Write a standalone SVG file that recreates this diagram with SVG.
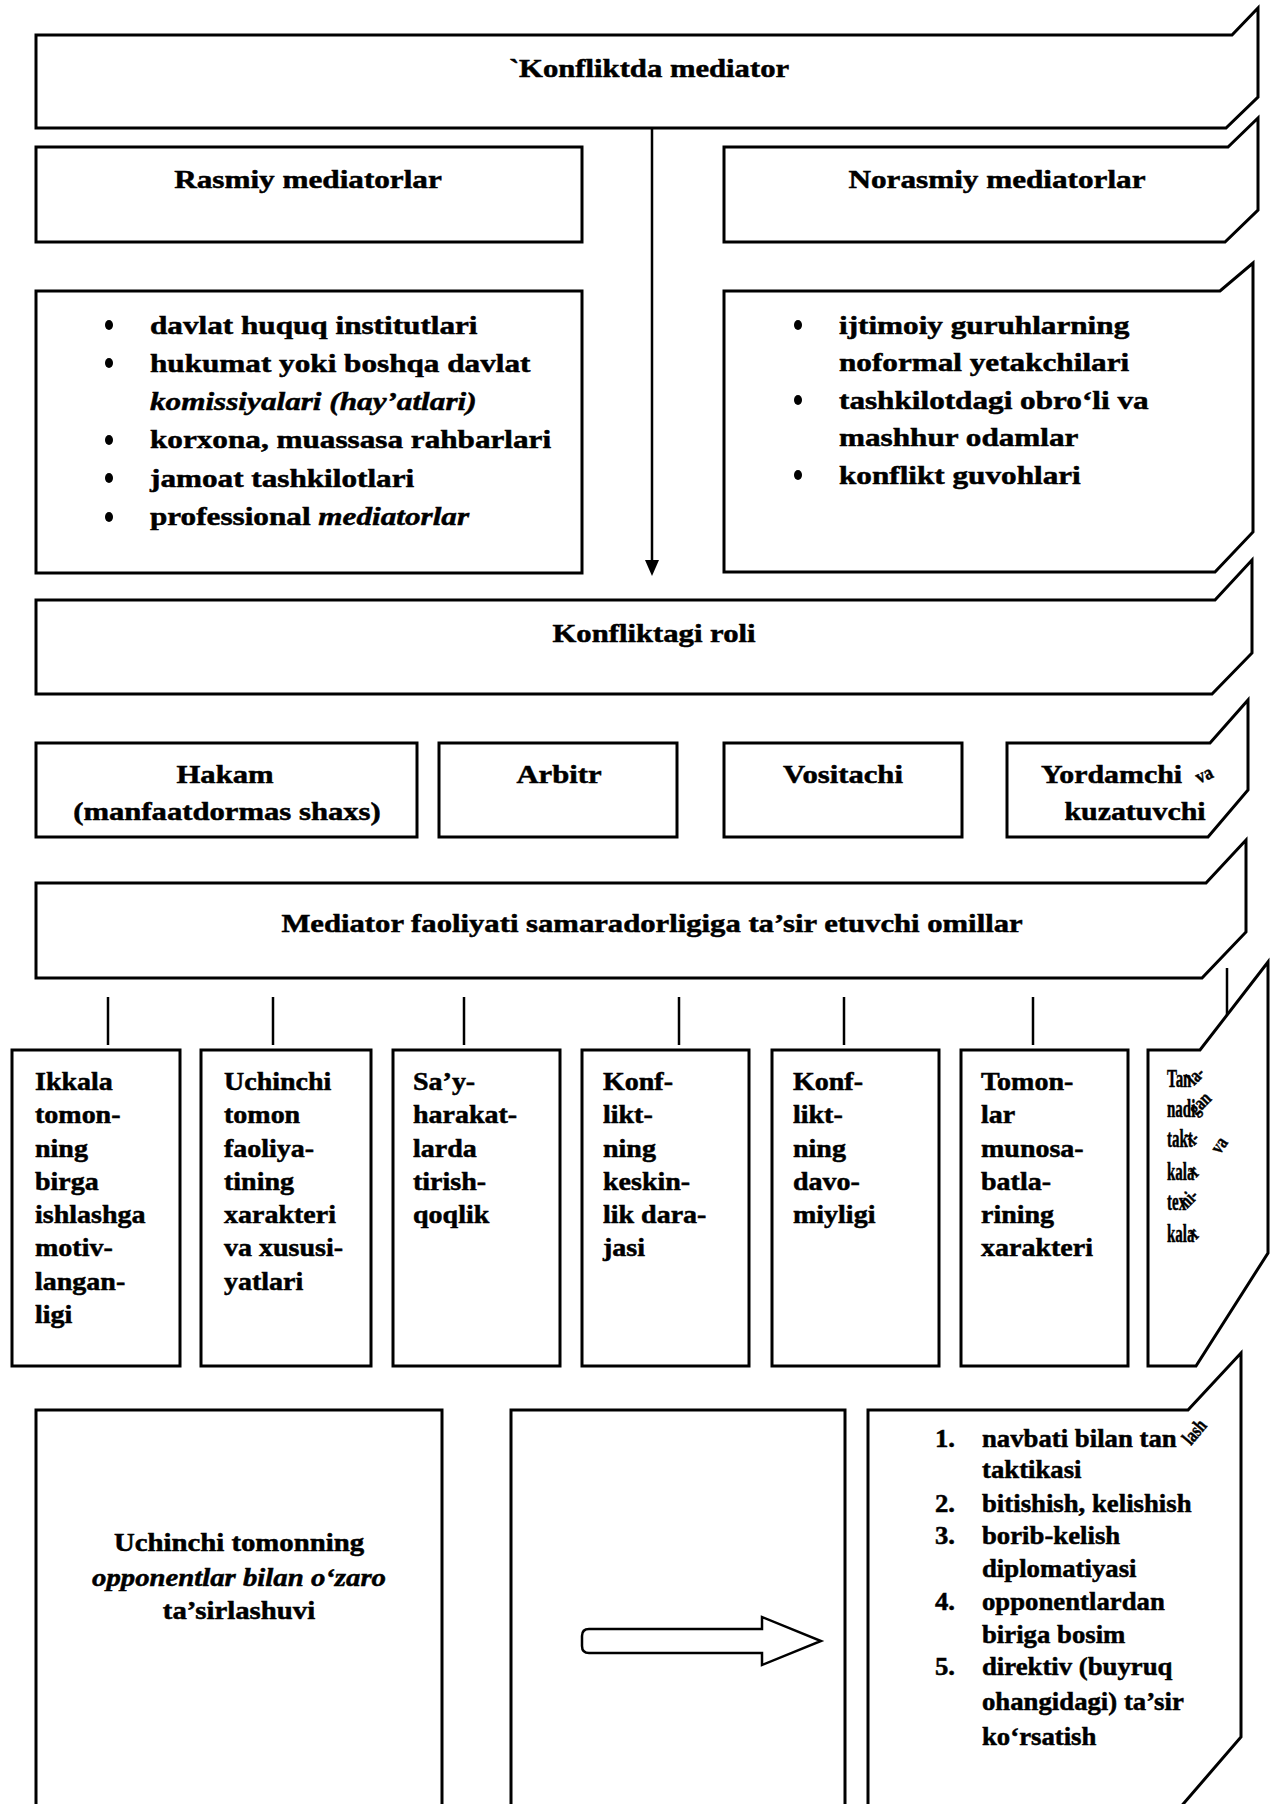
<svg xmlns="http://www.w3.org/2000/svg" width="1271" height="1804" viewBox="0 0 1271 1804">
  <style>
    .box { fill: #fff; stroke: #000; stroke-width: 3; stroke-linejoin: miter; }
    .open { fill: none; stroke: #000; stroke-width: 3; }
    .conn { fill: none; stroke: #000; stroke-width: 2.5; }
    .t { font-family: "Liberation Serif", "Times New Roman", serif; font-weight: bold; fill: #000; stroke: #000; stroke-width: 0.5; }
    .h { font-size: 26px; }
    .l { font-size: 26px; }
    .f { font-size: 25px; }
    .n { font-size: 25px; }
    .c { text-anchor: middle; }
    .i { font-style: italic; }
    .curl { font-size: 20px; }
  </style>

  <rect width="1271" height="1804" fill="#fff"/>

  <!-- connectors -->
  <g id="connectors">
    <line class="conn" x1="652" y1="128" x2="652" y2="561" stroke-width="2"/>
    <polygon points="645,560 659,560 652,576" fill="#000"/>
    <line class="conn" x1="108" y1="997" x2="108" y2="1045"/>
    <line class="conn" x1="273" y1="997" x2="273" y2="1045"/>
    <line class="conn" x1="464" y1="997" x2="464" y2="1045"/>
    <line class="conn" x1="679" y1="997" x2="679" y2="1045"/>
    <line class="conn" x1="844" y1="997" x2="844" y2="1045"/>
    <line class="conn" x1="1033" y1="997" x2="1033" y2="1045"/>
    <line class="conn" x1="1227" y1="968" x2="1227" y2="1015"/>
  </g>

  <!-- top heading -->
  <g id="konfliktda-mediator">
    <path class="box" d="M36,35 H1232 L1258,8 V97 L1226,128 H36 Z"/>
    <text class="t h c" transform="translate(649 77) scale(1.18 1)">`Konfliktda mediator</text>
  </g>

  <g id="rasmiy">
    <rect class="box" x="36" y="147" width="546" height="95"/>
    <text class="t h c" transform="translate(308 188) scale(1.2 1)">Rasmiy mediatorlar</text>
  </g>

  <g id="norasmiy">
    <path class="box" d="M724,147 H1228 L1258,118 V210 L1225,242 H724 Z"/>
    <text class="t h c" transform="translate(997 188) scale(1.2 1)">Norasmiy mediatorlar</text>
  </g>

  <g id="rasmiy-list">
    <rect class="box" x="36" y="291" width="546" height="282"/>
    <ellipse cx="109" cy="325" rx="4" ry="5"/>
    <ellipse cx="109" cy="363" rx="4" ry="5"/>
    <ellipse cx="109" cy="440" rx="4" ry="5"/>
    <ellipse cx="109" cy="478" rx="4" ry="5"/>
    <ellipse cx="109" cy="517" rx="4" ry="5"/>
    <text class="t l" transform="translate(150 334) scale(1.2 1)">davlat huquq institutlari</text>
    <text class="t l" transform="translate(150 372) scale(1.2 1)">hukumat yoki boshqa davlat</text>
    <text class="t l i" transform="translate(150 410) scale(1.2 1)">komissiyalari (hay’atlari)</text>
    <text class="t l" transform="translate(150 448) scale(1.2 1)">korxona, muassasa rahbarlari</text>
    <text class="t l" transform="translate(150 487) scale(1.2 1)">jamoat tashkilotlari</text>
    <text class="t l" transform="translate(150 525) scale(1.2 1)">professional <tspan class="i">mediatorlar</tspan></text>
  </g>

  <g id="norasmiy-list">
    <path class="box" d="M724,291 H1220 L1253,263 V532 L1215,572 H724 Z"/>
    <ellipse cx="798" cy="325" rx="4" ry="5"/>
    <ellipse cx="798" cy="400" rx="4" ry="5"/>
    <ellipse cx="798" cy="475" rx="4" ry="5"/>
    <text class="t l" transform="translate(839 334) scale(1.2 1)">ijtimoiy guruhlarning</text>
    <text class="t l" transform="translate(839 371) scale(1.2 1)">noformal yetakchilari</text>
    <text class="t l" transform="translate(839 409) scale(1.2 1)">tashkilotdagi obro‘li va</text>
    <text class="t l" transform="translate(839 446) scale(1.2 1)">mashhur odamlar</text>
    <text class="t l" transform="translate(839 484) scale(1.2 1)">konflikt guvohlari</text>
  </g>

  <g id="konfliktagi-roli">
    <path class="box" d="M36,600 H1215 L1252,560 V653 L1212,694 H36 Z"/>
    <text class="t h c" transform="translate(654 642) scale(1.18 1)">Konfliktagi roli</text>
  </g>

  <g id="hakam">
    <rect class="box" x="36" y="743" width="381" height="94"/>
    <text class="t h c" transform="translate(225 783) scale(1.18 1)">Hakam</text>
    <text class="t h c" transform="translate(227 820) scale(1.18 1)">(manfaatdormas shaxs)</text>
  </g>

  <g id="arbitr">
    <rect class="box" x="439" y="743" width="238" height="94"/>
    <text class="t h c" transform="translate(559 783) scale(1.18 1)">Arbitr</text>
  </g>

  <g id="vositachi">
    <rect class="box" x="724" y="743" width="238" height="94"/>
    <text class="t h c" transform="translate(843 783) scale(1.18 1)">Vositachi</text>
  </g>

  <g id="yordamchi">
    <path class="box" d="M1007,743 H1210 L1248,700 V790 L1208,837 H1007 Z"/>
    <text class="t h" transform="translate(1041 783) scale(1.15 1)">Yordamchi</text>
    <text class="t curl" transform="translate(1199 784) rotate(-25) scale(0.85 1)">va</text>
    <text class="t h c" transform="translate(1135 820) scale(1.15 1)">kuzatuvchi</text>
  </g>

  <g id="omillar">
    <path class="box" d="M36,883 H1206 L1246,840 V932 L1202,978 H36 Z"/>
    <text class="t h c" transform="translate(652 932) scale(1.18 1)">Mediator faoliyati samaradorligiga ta’sir etuvchi omillar</text>
  </g>

  <!-- factor boxes -->
  <g id="factor-1">
    <rect class="box" x="12" y="1050" width="168" height="316"/>
    <text class="t f" transform="translate(35 1090) scale(1.12 1)">
      <tspan x="0" y="0">Ikkala</tspan>
      <tspan x="0" y="33.3">tomon-</tspan>
      <tspan x="0" y="66.6">ning</tspan>
      <tspan x="0" y="99.9">birga</tspan>
      <tspan x="0" y="133.2">ishlashga</tspan>
      <tspan x="0" y="166.5">motiv-</tspan>
      <tspan x="0" y="199.8">langan-</tspan>
      <tspan x="0" y="233.1">ligi</tspan>
    </text>
  </g>

  <g id="factor-2">
    <rect class="box" x="201" y="1050" width="170" height="316"/>
    <text class="t f" transform="translate(224 1090) scale(1.12 1)">
      <tspan x="0" y="0">Uchinchi</tspan>
      <tspan x="0" y="33.3">tomon</tspan>
      <tspan x="0" y="66.6">faoliya-</tspan>
      <tspan x="0" y="99.9">tining</tspan>
      <tspan x="0" y="133.2">xarakteri</tspan>
      <tspan x="0" y="166.5">va xususi-</tspan>
      <tspan x="0" y="199.8">yatlari</tspan>
    </text>
  </g>

  <g id="factor-3">
    <rect class="box" x="393" y="1050" width="167" height="316"/>
    <text class="t f" transform="translate(413 1090) scale(1.12 1)">
      <tspan x="0" y="0">Sa’y-</tspan>
      <tspan x="0" y="33.3">harakat-</tspan>
      <tspan x="0" y="66.6">larda</tspan>
      <tspan x="0" y="99.9">tirish-</tspan>
      <tspan x="0" y="133.2">qoqlik</tspan>
    </text>
  </g>

  <g id="factor-4">
    <rect class="box" x="582" y="1050" width="167" height="316"/>
    <text class="t f" transform="translate(603 1090) scale(1.12 1)">
      <tspan x="0" y="0">Konf-</tspan>
      <tspan x="0" y="33.3">likt-</tspan>
      <tspan x="0" y="66.6">ning</tspan>
      <tspan x="0" y="99.9">keskin-</tspan>
      <tspan x="0" y="133.2">lik dara-</tspan>
      <tspan x="0" y="166.5">jasi</tspan>
    </text>
  </g>

  <g id="factor-5">
    <rect class="box" x="772" y="1050" width="167" height="316"/>
    <text class="t f" transform="translate(793 1090) scale(1.12 1)">
      <tspan x="0" y="0">Konf-</tspan>
      <tspan x="0" y="33.3">likt-</tspan>
      <tspan x="0" y="66.6">ning</tspan>
      <tspan x="0" y="99.9">davo-</tspan>
      <tspan x="0" y="133.2">miyligi</tspan>
    </text>
  </g>

  <g id="factor-6">
    <rect class="box" x="961" y="1050" width="167" height="316"/>
    <text class="t f" transform="translate(981 1090) scale(1.12 1)">
      <tspan x="0" y="0">Tomon-</tspan>
      <tspan x="0" y="33.3">lar</tspan>
      <tspan x="0" y="66.6">munosa-</tspan>
      <tspan x="0" y="99.9">batla-</tspan>
      <tspan x="0" y="133.2">rining</tspan>
      <tspan x="0" y="166.5">xarakteri</tspan>
    </text>
  </g>

  <!-- last factor: the page curls, so word endings bend upward -->
  <g id="factor-7">
    <path class="box" d="M1148,1050 H1200 L1268,962 V1253 L1196,1366 H1148 Z"/>
    <text class="t f" transform="translate(1167 1087) scale(0.6 1)">Tan</text>
    <text class="t curl" transform="translate(1194 1086) rotate(-45) scale(0.75 1)">la-</text>
    <text class="t f" transform="translate(1167 1117) scale(0.6 1)">nadi</text>
    <text class="t curl" transform="translate(1196 1116) rotate(-45) scale(0.75 1)">gan</text>
    <text class="t f" transform="translate(1167 1147) scale(0.6 1)">takt</text>
    <text class="t curl" transform="translate(1194 1146) rotate(-45) scale(0.75 1)">i-</text>
    <text class="t curl" transform="translate(1220 1155) rotate(-55) scale(0.75 1)">va</text>
    <text class="t f" transform="translate(1167 1180) scale(0.6 1)">kala</text>
    <text class="t curl" transform="translate(1196 1178) rotate(-45) scale(0.75 1)">r</text>
    <text class="t f" transform="translate(1167 1210) scale(0.6 1)">tex</text>
    <text class="t curl" transform="translate(1187 1209) rotate(-45) scale(0.75 1)">ni-</text>
    <text class="t f" transform="translate(1167 1242) scale(0.6 1)">kala</text>
    <text class="t curl" transform="translate(1196 1240) rotate(-45) scale(0.75 1)">r</text>
  </g>

  <!-- lower section -->
  <g id="ozaro-tasir">
    <path class="open" d="M36,1810 V1410 H442 V1810"/>
    <text class="t f c" transform="translate(239 1551) scale(1.15 1)">Uchinchi tomonning</text>
    <text class="t f c i" transform="translate(239 1586) scale(1.15 1)">opponentlar bilan o‘zaro</text>
    <text class="t f c" transform="translate(239 1619) scale(1.15 1)">ta’sirlashuvi</text>
  </g>

  <g id="middle-box">
    <path class="open" d="M511,1810 V1410 H845 V1810"/>
    <path d="M762,1629 H589 Q582,1629 582,1636 V1646 Q582,1653 589,1653 H762 V1665 L821,1641 L762,1617 Z" fill="#fff" stroke="#000" stroke-width="2.5" stroke-linejoin="miter"/>
  </g>

  <g id="taktikalar">
    <path class="open" d="M868,1810 V1410 H1188 L1241,1353 V1737 L1178,1810"/>
    <g class="t n">
      <text transform="translate(935 1447) scale(1.07 1)">1.</text>
      <text transform="translate(982 1447) scale(1.07 1)">navbati bilan tan</text>
      <text class="curl" transform="translate(1191 1446) rotate(-50) scale(0.75 1)">lash</text>
      <text transform="translate(982 1478) scale(1.07 1)">taktikasi</text>
      <text transform="translate(935 1512) scale(1.07 1)">2.</text>
      <text transform="translate(982 1512) scale(1.07 1)">bitishish, kelishish</text>
      <text transform="translate(935 1544) scale(1.07 1)">3.</text>
      <text transform="translate(982 1544) scale(1.07 1)">borib-kelish</text>
      <text transform="translate(982 1577) scale(1.07 1)">diplomatiyasi</text>
      <text transform="translate(935 1610) scale(1.07 1)">4.</text>
      <text transform="translate(982 1610) scale(1.07 1)">opponentlardan</text>
      <text transform="translate(982 1643) scale(1.07 1)">biriga bosim</text>
      <text transform="translate(935 1675) scale(1.07 1)">5.</text>
      <text transform="translate(982 1675) scale(1.07 1)">direktiv (buyruq</text>
      <text transform="translate(982 1710) scale(1.07 1)">ohangidagi) ta’sir</text>
      <text transform="translate(982 1745) scale(1.07 1)">ko‘rsatish</text>
    </g>
  </g>
</svg>
